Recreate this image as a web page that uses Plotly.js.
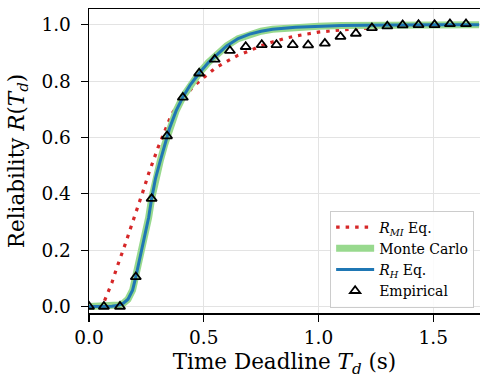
<!DOCTYPE html>
<html>
<head>
<meta charset="utf-8">
<script src="https://cdn.plot.ly/plotly-3.0.1.min.js"></script>
<style>html,body{margin:0;padding:0;background:#fff;}#chart{width:480px;height:378px;}</style>
</head>
<body>
<div id="chart"></div>
<script>
// R_MI equation curve
const miX = [0, 0.05, 0.06, 0.08, 0.10, 0.12, 0.14, 0.16, 0.18, 0.20, 0.22, 0.24, 0.26, 0.28, 0.30, 0.33, 0.36, 0.40, 0.45, 0.50, 0.55, 0.60, 0.65, 0.70, 0.75, 0.80, 0.85, 0.90, 0.95, 1.0, 1.1, 1.2, 1.3, 1.4, 1.5, 1.7];
const miY = [0, 0, 0.005, 0.045, 0.085, 0.135, 0.178, 0.226, 0.275, 0.322, 0.37, 0.42, 0.472, 0.52, 0.562, 0.622, 0.683, 0.728, 0.777, 0.813, 0.846, 0.87, 0.892, 0.908, 0.926, 0.939, 0.951, 0.960, 0.968, 0.974, 0.982, 0.988, 0.993, 0.996, 0.998, 1.0];
// Monte Carlo curve
const mcX = [0, 0.05, 0.10, 0.13, 0.15, 0.17, 0.19, 0.204, 0.22, 0.24, 0.26, 0.273, 0.29, 0.31, 0.33, 0.35, 0.38, 0.41, 0.44, 0.48, 0.52, 0.56, 0.60, 0.65, 0.70, 0.75, 0.80, 0.90, 1.0, 1.1, 1.2, 1.3, 1.5, 1.7];
const mcY = [0, 0, 0.001, 0.005, 0.012, 0.026, 0.058, 0.105, 0.163, 0.237, 0.316, 0.383, 0.455, 0.515, 0.575, 0.63, 0.695, 0.745, 0.785, 0.828, 0.866, 0.897, 0.925, 0.951, 0.967, 0.977, 0.984, 0.991, 0.995, 0.997, 0.998, 0.999, 1.0, 1.0];
// R_H equation curve
const rhX = [0, 0.05, 0.10, 0.13, 0.15, 0.17, 0.19, 0.204, 0.22, 0.24, 0.26, 0.273, 0.29, 0.31, 0.33, 0.35, 0.38, 0.41, 0.44, 0.48, 0.52, 0.56, 0.60, 0.65, 0.70, 0.75, 0.80, 0.90, 1.0, 1.1, 1.2, 1.3, 1.5, 1.7];
const rhY = [0, 0, 0.001, 0.005, 0.012, 0.026, 0.058, 0.105, 0.163, 0.237, 0.316, 0.383, 0.455, 0.515, 0.575, 0.63, 0.695, 0.745, 0.785, 0.828, 0.866, 0.897, 0.925, 0.951, 0.967, 0.977, 0.984, 0.991, 0.995, 0.997, 0.998, 0.999, 1.0, 1.0];
// Empirical points
const empX = [0, 0.065, 0.135, 0.204, 0.273, 0.34, 0.409, 0.48, 0.548, 0.614, 0.683, 0.753, 0.817, 0.888, 0.955, 1.028, 1.096, 1.163, 1.233, 1.300, 1.367, 1.436, 1.506, 1.573, 1.643];
const empY = [0, 0, 0, 0.105, 0.383, 0.605, 0.742, 0.828, 0.877, 0.908, 0.922, 0.929, 0.929, 0.929, 0.928, 0.934, 0.958, 0.969, 0.989, 0.995, 0.999, 1.0, 1.0, 1.003, 1.003];

const xTicks = [0, 0.5, 1.0, 1.5];
const yTicks = [0, 0.2, 0.4, 0.6, 0.8, 1.0];

const FONT = 'DejaVu Serif';

const traces = [
  {x: miX, y: miY, mode: 'lines', name: '<i>R</i><sub><i>MI</i></sub> Eq.', legendgroup: 'a',
   line: {color: '#d62728', width: 3.2, dash: '3.5px,6px'}},
  {x: mcX, y: mcY, mode: 'lines', name: 'Monte Carlo', legendgroup: 'b',
   line: {color: '#98d98e', width: 7}},
  {x: rhX, y: rhY, mode: 'lines', name: '<i>R</i><sub><i>H</i></sub> Eq.', legendgroup: 'c',
   line: {color: '#1f77b4', width: 3}},
  {x: empX, y: empY, mode: 'markers', name: 'Empirical', legendgroup: 'd',
   marker: {symbol: 'triangle-up-open', size: 9, color: '#000', line: {width: 1.8}}}
];

const layout = {
  width: 480, height: 378,
  margin: {l: 89, r: 0, t: 9, b: 65},
  paper_bgcolor: '#fff', plot_bgcolor: '#fff',
  font: {family: FONT, color: '#000', size: 18},
  showlegend: true,
  legend: {
    x: 0.985, y: 0.018, xanchor: 'right', yanchor: 'bottom',
    bgcolor: 'rgba(255,255,255,0.85)', bordercolor: '#cccccc', borderwidth: 1,
    font: {family: FONT, size: 14, color: '#000'},
    tracegroupgap: 0, itemwidth: 38
  },
  xaxis: {
    range: [0, 1.704], tickvals: xTicks, tickformat: '.1f',
    showline: true, linecolor: '#000', linewidth: 1.5, mirror: true,
    ticks: 'outside', ticklen: 7, tickwidth: 1.2, tickcolor: '#000',
    showgrid: true, gridcolor: '#e3e3e3', gridwidth: 1, zeroline: false,
    tickfont: {family: FONT, size: 18.5},
    title: {text: 'Time Deadline <i>T</i><sub><i>d</i></sub> (s)', font: {family: FONT, size: 21.5}, standoff: 9}
  },
  yaxis: {
    range: [-0.023, 1.056], tickvals: yTicks, tickformat: '.1f',
    showline: true, linecolor: '#000', linewidth: 1.5,
    ticks: 'outside', ticklen: 7, tickwidth: 1.2, tickcolor: '#000', ticklabelstandoff: 6,
    showgrid: true, gridcolor: '#e3e3e3', gridwidth: 1, zeroline: false,
    tickfont: {family: FONT, size: 18.5},
    title: {text: 'Reliability <i>R</i>(<i>T</i><sub><i>d</i></sub>)', font: {family: FONT, size: 21.5}, standoff: 11}
  }
};

Plotly.newPlot('chart', traces, layout, {staticPlot: true, displayModeBar: false});
</script>
</body>
</html>
